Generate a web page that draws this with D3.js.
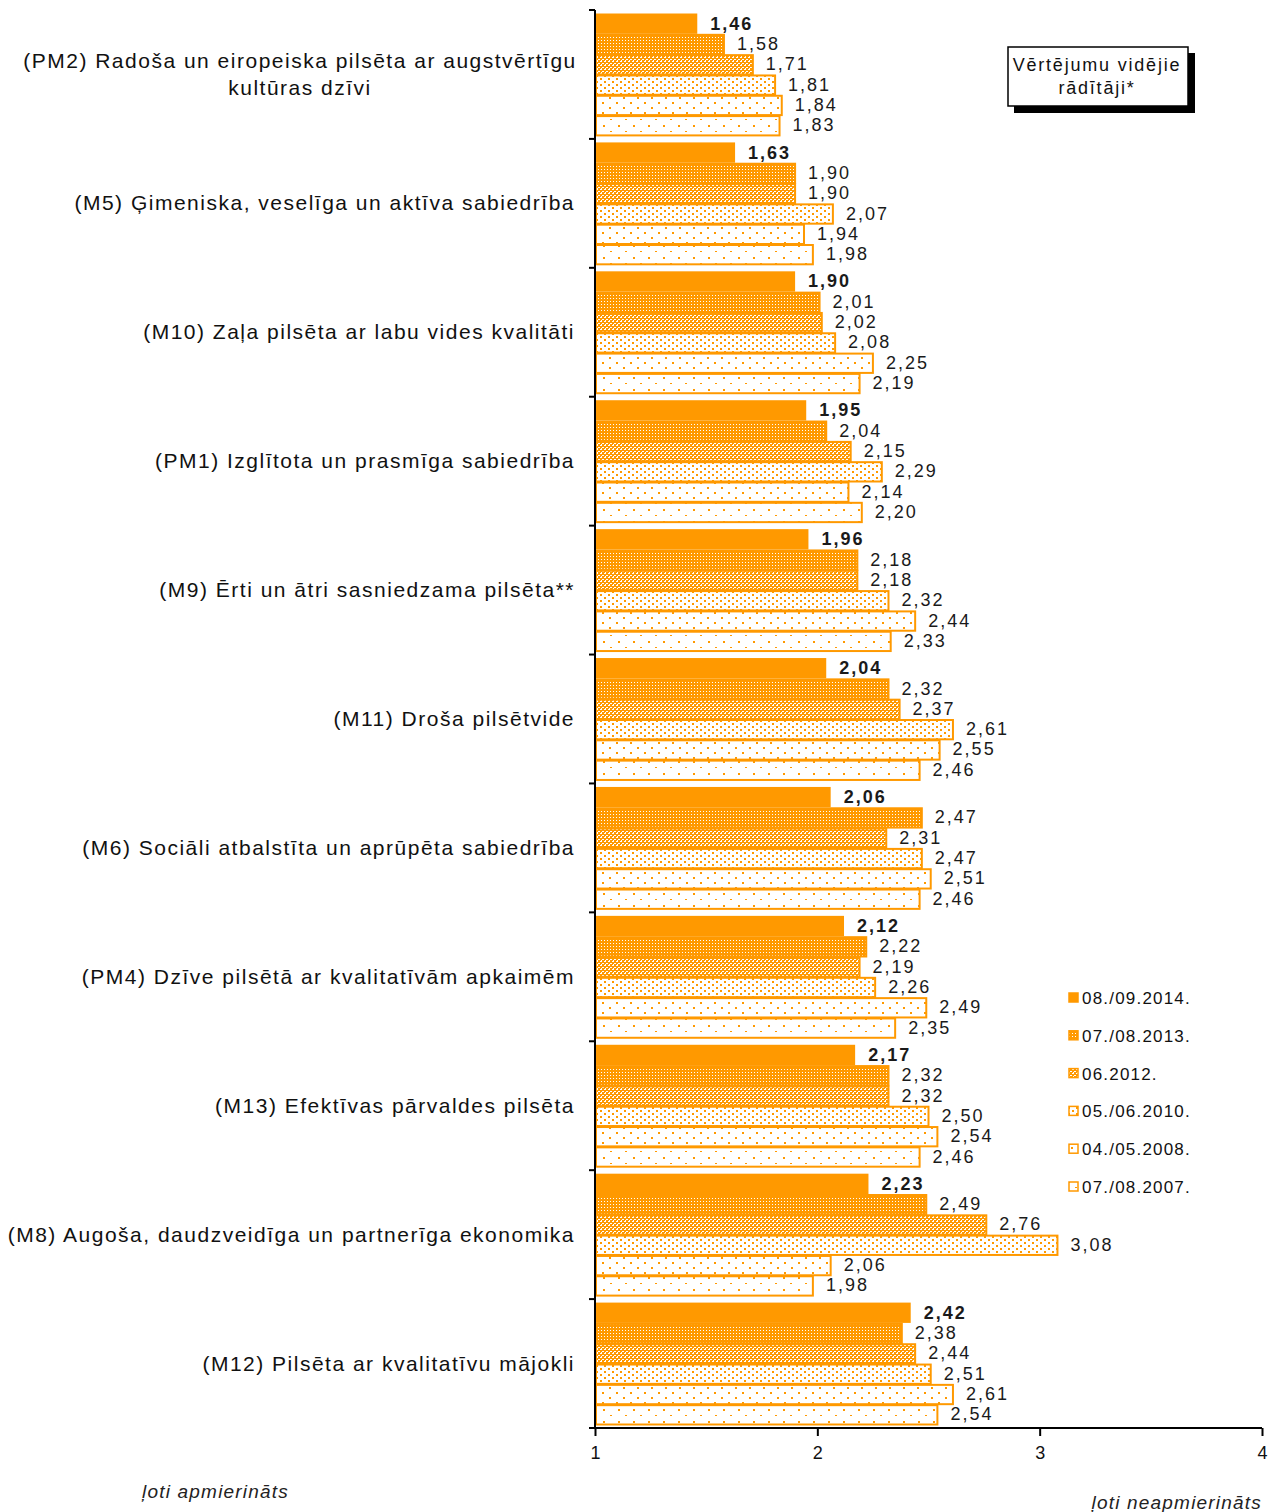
<!DOCTYPE html>
<html>
<head>
<meta charset="utf-8">
<script src="https://cdn.jsdelivr.net/npm/d3@7"></script>
<style>
  html, body { margin: 0; padding: 0; background: #fff; }
  svg { display: block; font-family: "Liberation Sans", Arial, sans-serif; }
</style>
</head>
<body>
<svg id="chart" width="1275" height="1512"></svg>
<script>
const categories = [
  "(PM2) Radoša un eiropeiska pilsēta ar augstvērtīgu|kultūras dzīvi",
  "(M5) Ģimeniska, veselīga un aktīva sabiedrība",
  "(M10) Zaļa pilsēta ar labu vides kvalitāti",
  "(PM1) Izglītota un prasmīga sabiedrība",
  "(M9) Ērti un ātri sasniedzama pilsēta**",
  "(M11) Droša pilsētvide",
  "(M6) Sociāli atbalstīta un aprūpēta sabiedrība",
  "(PM4) Dzīve pilsētā ar kvalitatīvām apkaimēm",
  "(M13) Efektīvas pārvaldes pilsēta",
  "(M8) Augoša, daudzveidīga un partnerīga ekonomika",
  "(M12) Pilsēta ar kvalitatīvu mājokli"
];
const seriesNames = ["08./09.2014.", "07./08.2013.", "06.2012.", "05./06.2010.", "04./05.2008.", "07./08.2007."];
const v2014 = [1.46, 1.63, 1.90, 1.95, 1.96, 2.04, 2.06, 2.12, 2.17, 2.23, 2.42];
const v2013 = [1.58, 1.90, 2.01, 2.04, 2.18, 2.32, 2.47, 2.22, 2.32, 2.49, 2.38];
const v2012 = [1.71, 1.90, 2.02, 2.15, 2.18, 2.37, 2.31, 2.19, 2.32, 2.76, 2.44];
const v2010 = [1.81, 2.07, 2.08, 2.29, 2.32, 2.61, 2.47, 2.26, 2.50, 3.08, 2.51];
const v2008 = [1.84, 1.94, 2.25, 2.14, 2.44, 2.55, 2.51, 2.49, 2.54, 2.06, 2.61];
const v2007 = [1.83, 1.98, 2.19, 2.20, 2.33, 2.46, 2.46, 2.35, 2.46, 1.98, 2.54];
const xTicks = [1, 2, 3, 4];
const boxTitle = ["Vērtējumu vidējie", "rādītāji*"];
const leftNote = "ļoti apmierināts";
const rightNote = "ļoti neapmierināts";

const seriesValues = [v2014, v2013, v2012, v2010, v2008, v2007];
const ORANGE = "#FF9900";

const svg = d3.select("#chart");
const defs = svg.append("defs");

// patterns
function pat(id, w, h, bg, dots, dotColor) {
  const p = defs.append("pattern").attr("id", id).attr("patternUnits", "userSpaceOnUse")
    .attr("width", w).attr("height", h);
  p.append("rect").attr("width", w).attr("height", h).attr("fill", bg);
  dots.forEach(d => p.append("rect").attr("x", d[0]).attr("y", d[1]).attr("width", d[2]).attr("height", d[3]).attr("fill", dotColor));
}
pat("p0", 4, 4, ORANGE, [], "#fff");
pat("p1", 3, 3, ORANGE, [[1, 1, 1, 1]], "#fff");
pat("p2", 4, 4, ORANGE, [[0, 1, 2, 1], [2, 3, 2, 1], [1, 0, 1, 1]], "#fff");
pat("p3", 8, 6, "#fff", [[0, 0, 2, 2], [4, 3, 2, 2]], ORANGE);
pat("p4", 14, 10, "#fff", [[0, 2, 2, 2], [7, 7, 2, 2]], ORANGE);
pat("p5", 15, 12, "#fff", [[3, 5, 2, 2], [10, 11, 2, 1]], ORANGE);

const x = d3.scaleLinear().domain([1, 4]).range([595, 1262]);
const y = d3.scaleBand().domain(d3.range(categories.length)).range([10, 1428]);
const ySub = d3.scaleBand().domain(d3.range(seriesNames.length)).range([3.5, y.bandwidth() - 3.5]);

// bars
const g = svg.append("g");
categories.forEach((c, ci) => {
  seriesValues.forEach((vals, si) => {
    const v = vals[ci];
    const yy = y(ci) + ySub(si);
    const h = ySub.bandwidth();
    if (si === 0) {
      g.append("rect").attr("x", x(1)).attr("y", yy).attr("width", x(v) - x(1)).attr("height", h)
        .attr("fill", "url(#p0)");
    } else {
      g.append("rect").attr("x", x(1) + 1).attr("y", yy + 1).attr("width", x(v) - x(1) - 1).attr("height", h - 1)
        .attr("fill", "url(#p" + si + ")").attr("stroke", ORANGE).attr("stroke-width", 2);
    }
  });
});

// value labels
categories.forEach((c, ci) => {
  seriesValues.forEach((vals, si) => {
    const v = vals[ci];
    svg.append("text")
      .attr("x", x(v) + 13)
      .attr("y", y(ci) + ySub(si) + ySub.bandwidth() / 2 + 6)
      .attr("font-size", 18)
      .attr("letter-spacing", 2)
      .attr("font-weight", si === 0 ? "bold" : "normal")
      .attr("fill", "#1a1a1a")
      .text(v.toFixed(2).replace(".", ","));
  });
});

// y axis
svg.append("line").attr("x1", 595).attr("x2", 595).attr("y1", y.range()[0]).attr("y2", y.range()[1])
  .attr("stroke", "#000").attr("stroke-width", 2);
d3.range(categories.length + 1).forEach(i => {
  const yy = i < categories.length ? y(i) : y.range()[1];
  svg.append("line").attr("x1", 589).attr("x2", 595).attr("y1", yy).attr("y2", yy)
    .attr("stroke", "#000").attr("stroke-width", 2);
});

// category labels
categories.forEach((c, ci) => {
  const lines = c.split("|");
  const cy = y(ci) + y.bandwidth() / 2;
  if (lines.length === 1) {
    svg.append("text").attr("x", 575).attr("y", cy + 7).attr("text-anchor", "end")
      .attr("font-size", 21).attr("letter-spacing", 1.5).attr("fill", "#111").text(lines[0]);
  } else {
    lines.forEach((l, li) => {
      svg.append("text").attr("x", 300).attr("y", cy + 7 + (li - (lines.length - 1) / 2) * 27)
        .attr("text-anchor", "middle").attr("font-size", 21).attr("letter-spacing", 1.5)
        .attr("fill", "#111").text(l);
    });
  }
});

// x axis
const xAxis = d3.axisBottom(x).tickValues(xTicks).tickSize(8).tickFormat(d3.format("d"));
const ax = svg.append("g").attr("transform", "translate(0,1428)").call(xAxis);
ax.select(".domain").attr("stroke", "#000").attr("stroke-width", 2).attr("d", "M595,0H1262");
ax.selectAll(".tick line").attr("stroke", "#000").attr("stroke-width", 2);
ax.selectAll(".tick text").attr("font-size", 18).attr("fill", "#111")
  .attr("font-family", "'Liberation Sans', Arial, sans-serif").attr("dy", "1.1em");

// notes
svg.append("text").attr("x", 142).attr("y", 1498).attr("font-size", 19).attr("letter-spacing", 1.2)
  .attr("font-style", "italic").attr("fill", "#222").text(leftNote);
svg.append("text").attr("x", 1262).attr("y", 1509).attr("text-anchor", "end").attr("font-size", 19)
  .attr("letter-spacing", 1.2).attr("font-style", "italic").attr("fill", "#222").text(rightNote);

// title box
svg.append("rect").attr("x", 1014).attr("y", 53).attr("width", 181).attr("height", 60).attr("fill", "#000");
svg.append("rect").attr("x", 1008).attr("y", 47).attr("width", 180).attr("height", 59)
  .attr("fill", "#fff").attr("stroke", "#000").attr("stroke-width", 1.5);
boxTitle.forEach((t, i) => {
  svg.append("text").attr("x", 1097).attr("y", 71 + i * 23).attr("text-anchor", "middle")
    .attr("font-size", 18).attr("letter-spacing", 1.8).attr("fill", "#111").text(t);
});

// legend
const leg = svg.append("g");
seriesNames.forEach((s, i) => {
  const ly = 998 + i * 37.8;
  leg.append("rect").attr("x", 1069).attr("y", ly - 5).attr("width", 9).attr("height", 9)
    .attr("fill", "url(#p" + i + ")").attr("stroke", ORANGE).attr("stroke-width", 1.5);
  leg.append("text").attr("x", 1082).attr("y", ly + 6).attr("font-size", 17).attr("letter-spacing", 1.2)
    .attr("fill", "#111").text(s);
});
</script>
</body>
</html>
